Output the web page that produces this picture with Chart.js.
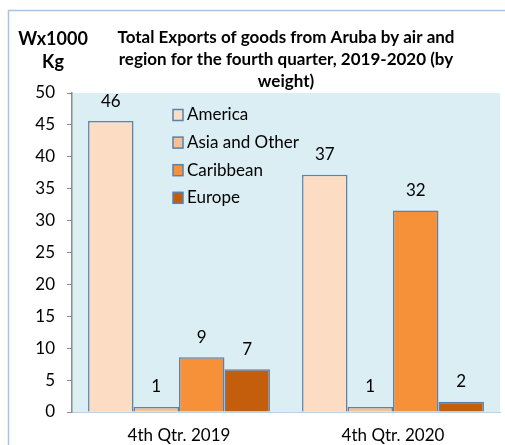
<!DOCTYPE html>
<html>
<head>
<meta charset="utf-8">
<script src="https://cdn.jsdelivr.net/npm/chart.js@4/dist/chart.umd.min.js"></script>
<style>
  body { margin: 0; background: #fff; }
</style>
</head>
<body>
<canvas id="chart" width="505" height="445"></canvas>
<script>
const categories = ["4th Qtr. 2019", "4th Qtr. 2020"];
const seriesNames = ["America", "Asia and Other", "Caribbean", "Europe"];
const america = [45.6, 37.2];
const asiaOther = [0.8, 0.8];
const caribbean = [8.6, 31.6];
const europe = [6.7, 1.6];
const yMax = 50;
const yStep = 5;
const titleLines = [
  "Total Exports of goods from Aruba by air and",
  "region for the fourth quarter, 2019-2020 (by",
  "weight)",
];
const unitLines = ["Wx1000", "Kg"];

const colors = ["#fcdcc2", "#fabf8f", "#f79139", "#c55e0c"];
const edge = "#5a82ad";
const font = "Lato, 'Open Sans', sans-serif";

const backdrop = {
  id: "backdrop",
  beforeDraw(chart) {
    const { ctx, chartArea } = chart;
    ctx.save();
    ctx.fillStyle = "#fff";
    ctx.fillRect(0, 0, chart.width, chart.height);
    ctx.strokeStyle = "#a7c4e4";
    ctx.lineWidth = 1.5;
    ctx.beginPath();
    ctx.moveTo(8.5, chart.height);
    ctx.lineTo(8.5, 10.5);
    ctx.lineTo(chart.width, 10.5);
    ctx.stroke();
    ctx.fillStyle = "#dbeef4";
    ctx.fillRect(chartArea.left, chartArea.top, chartArea.right - chartArea.left, chartArea.bottom - chartArea.top);
    ctx.restore();
  },
};

const valueLabels = {
  id: "valueLabels",
  afterDatasetsDraw(chart) {
    const { ctx } = chart;
    ctx.save();
    ctx.fillStyle = "#000";
    ctx.font = "17px " + font;
    ctx.textAlign = "center";
    ctx.textBaseline = "middle";
    chart.data.datasets.forEach((ds, i) => {
      chart.getDatasetMeta(i).data.forEach((bar, j) => {
        ctx.fillText(Math.round(ds.data[j]), bar.x, bar.y - 20);
      });
    });
    ctx.restore();
  },
};

const headings = {
  id: "headings",
  afterDraw(chart) {
    const { ctx, chartArea } = chart;
    ctx.save();
    ctx.fillStyle = "#000";
    ctx.textAlign = "center";
    ctx.textBaseline = "middle";
    ctx.font = "bold 17px " + font;
    const cx = (chartArea.left + chartArea.right) / 2;
    titleLines.forEach((line, i) => ctx.fillText(line, cx, 38 + i * 22));
    ctx.font = "bold 18px " + font;
    unitLines.forEach((line, i) => ctx.fillText(line, 53, 39 + i * 23));

    // legend
    ctx.textAlign = "left";
    ctx.font = "17px " + font;
    chart.data.datasets.forEach((ds, i) => {
      const y = 115 + i * 27.6;
      ctx.fillStyle = ds.backgroundColor;
      ctx.fillRect(173, y - 5.5, 10, 11);
      ctx.strokeStyle = edge;
      ctx.lineWidth = 1.5;
      ctx.strokeRect(173, y - 5.5, 10, 11);
      ctx.fillStyle = "#000";
      ctx.fillText(ds.label, 187, y);
    });
    ctx.restore();
  },
};

const seriesData = [america, asiaOther, caribbean, europe];

new Chart(document.getElementById("chart"), {
  type: "bar",
  data: {
    labels: categories,
    datasets: seriesNames.map((name, i) => ({
      label: name,
      data: seriesData[i],
      backgroundColor: colors[i],
      borderColor: edge,
      borderWidth: 1.5,
      categoryPercentage: 0.85,
      barPercentage: 1,
    })),
  },
  options: {
    responsive: false,
    animation: false,
    layout: { padding: { top: 93, right: 5, left: 0, bottom: 0 } },
    plugins: {
      legend: { display: false },
      title: { display: false },
      tooltip: { enabled: false },
    },
    scales: {
      x: {
        grid: { display: false, drawTicks: false },
        border: { color: "#b9d3e6", width: 1 },
        ticks: { color: "#000", font: { family: font, size: 17 }, padding: 13 },
        afterFit: (s) => { s.height = 33; },
      },
      y: {
        min: 0,
        max: yMax,
        ticks: { stepSize: yStep, color: "#000", font: { family: font, size: 17 }, padding: 12 },
        grid: { drawOnChartArea: false, drawTicks: true, tickLength: 5, color: "#8c8c8c" },
        border: { color: "#8c8c8c", width: 1.5 },
        afterFit: (s) => { s.width = 72; },
      },
    },
  },
  plugins: [backdrop, valueLabels, headings],
});
</script>
</body>
</html>
